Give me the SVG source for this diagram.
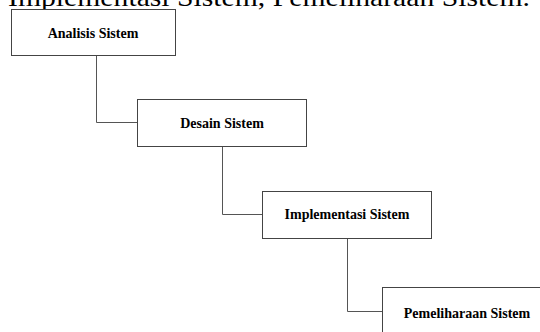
<svg xmlns="http://www.w3.org/2000/svg" width="540" height="332" viewBox="0 0 540 332">
<style>
.box{fill:#fff;stroke:#444;stroke-width:1}
.lbl{font-family:"Liberation Serif","Times New Roman",serif;font-weight:bold;font-size:14px;text-anchor:middle;fill:#000}
.con{fill:none;stroke:#555;stroke-width:1}
</style>
<rect width="540" height="332" fill="#fff"/>
<text x="8" y="6" font-family="Liberation Serif, serif" font-size="26" textLength="522" lengthAdjust="spacingAndGlyphs" fill="#000">Implementasi Sistem, Pemeliharaan Sistem.</text>
<g id="connectors">
<polyline class="con" points="96.5,56 96.5,122.5 137,122.5"/>
<polyline class="con" points="222.5,146 222.5,214.5 262,214.5"/>
<polyline class="con" points="347.5,238 347.5,311.5 382,311.5"/>
</g>
<g id="n1"><rect class="box" x="11.5" y="9.5" width="164" height="46"/><text class="lbl" x="93" y="37.5">Analisis Sistem</text></g>
<g id="n2"><rect class="box" x="137.5" y="99.5" width="169" height="47"/><text class="lbl" x="222" y="127.5">Desain Sistem</text></g>
<g id="n3"><rect class="box" x="262.5" y="191.5" width="169" height="47"/><text class="lbl" x="347" y="218.5">Implementasi Sistem</text></g>
<g id="n4"><rect class="box" x="382.5" y="287.5" width="170" height="60"/><text class="lbl" x="467" y="317.5">Pemeliharaan Sistem</text></g>
</svg>
